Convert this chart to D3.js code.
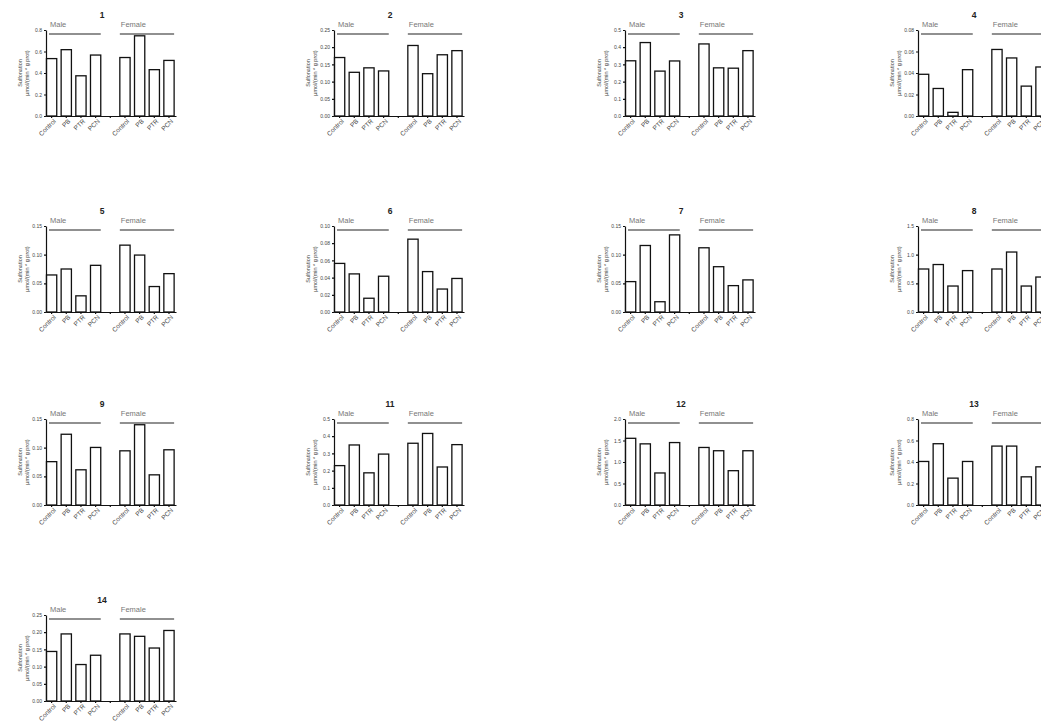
<!DOCTYPE html>
<html>
<head>
<meta charset="utf-8">
<script src="https://cdn.jsdelivr.net/npm/d3@7"></script>
<style>
  body { margin: 0; background: #fff; }
  svg { font-family: "Liberation Sans", Arial, sans-serif; }
</style>
</head>
<body>
<div id="root"></div>
<script>
// categories
var treatments = ["Control", "PB", "PTR", "PCN"];
var sexes = ["Male", "Female"];

// panel numbers (10 is missing in the source)
var panelIds = [1, 2, 3, 4, 5, 6, 7, 8, 9, 11, 12, 13, 14];

// y axis tick settings per panel
var yMax = [0.8, 0.25, 0.5, 0.08, 0.15, 0.10, 0.15, 1.5, 0.15, 0.5, 2.0, 0.8, 0.25];
var yStep = [0.2, 0.05, 0.1, 0.02, 0.05, 0.02, 0.05, 0.5, 0.05, 0.1, 0.5, 0.2, 0.05];
var yDecimals = [1, 2, 1, 2, 2, 2, 2, 1, 2, 1, 1, 1, 2];

// sulfonation, umol/(min * g prot): Control, PB, PTR, PCN
var maleValues = [
  [0.534, 0.617, 0.374, 0.567],
  [0.170, 0.127, 0.140, 0.131],
  [0.321, 0.427, 0.261, 0.320],
  [0.0388, 0.0256, 0.0034, 0.0431],
  [0.0646, 0.0750, 0.0282, 0.0814],
  [0.0565, 0.0443, 0.0160, 0.0416],
  [0.0530, 0.1160, 0.0179, 0.1345],
  [0.750, 0.828, 0.453, 0.722],
  [0.0756, 0.1234, 0.0614, 0.1004],
  [0.229, 0.349, 0.187, 0.296],
  [1.551, 1.422, 0.745, 1.452],
  [0.405, 0.570, 0.250, 0.405],
  [0.144, 0.195, 0.106, 0.133]
];
var femaleValues = [
  [0.544, 0.746, 0.431, 0.517],
  [0.205, 0.123, 0.178, 0.190],
  [0.419, 0.280, 0.278, 0.380],
  [0.0619, 0.0540, 0.0278, 0.0456],
  [0.1166, 0.0993, 0.0444, 0.0669],
  [0.0847, 0.0470, 0.0267, 0.0390],
  [0.1120, 0.0790, 0.0460, 0.0560],
  [0.750, 1.046, 0.453, 0.610],
  [0.0945, 0.1400, 0.0526, 0.0963],
  [0.359, 0.416, 0.221, 0.351],
  [1.338, 1.262, 0.798, 1.262],
  [0.548, 0.548, 0.262, 0.355],
  [0.195, 0.188, 0.154, 0.205]
];

var W = 1041, H = 724;
var colX = [46, 334, 625, 918];
var rowY = [116, 312, 505, 701];
var pw = 130, ph = 86;

var svg = d3.select("#root").append("svg")
  .attr("width", W)
  .attr("height", H);

// slots: 4 male, one empty gap, 4 female
var slots = treatments.map(function(t) { return "M_" + t; })
  .concat(["gap"])
  .concat(treatments.map(function(t) { return "F_" + t; }));

var x = d3.scaleBand()
  .domain(slots)
  .range([0, pw])
  .paddingInner(0.3)
  .paddingOuter(0.08)
  .align(0.2);

panelIds.forEach(function(id, i) {
  var col = i % 4, row = Math.floor(i / 4);
  var g = svg.append("g")
    .attr("transform", "translate(" + colX[col] + "," + (rowY[row] - ph) + ")");

  var y = d3.scaleLinear().domain([0, yMax[i]]).range([ph, 0]);
  var ticks = d3.range(0, yMax[i] + yStep[i] / 2, yStep[i]);

  var data = [];
  treatments.forEach(function(t, j) {
    data.push({ key: "M_" + t, value: maleValues[i][j] });
  });
  treatments.forEach(function(t, j) {
    data.push({ key: "F_" + t, value: femaleValues[i][j] });
  });

  g.selectAll(".bar")
    .data(data)
    .enter()
    .append("rect")
    .attr("class", "bar")
    .attr("x", function(d) { return x(d.key); })
    .attr("y", function(d) { return y(d.value); })
    .attr("width", x.bandwidth())
    .attr("height", function(d) { return ph - y(d.value); })
    .attr("fill", "#fff")
    .attr("stroke", "#111")
    .attr("stroke-width", 1.3);

  // y axis
  var yAxis = g.append("g")
    .call(d3.axisLeft(y).tickValues(ticks).tickSize(2).tickSizeOuter(0)
      .tickFormat(d3.format("." + yDecimals[i] + "f")));
  yAxis.selectAll("text").attr("font-size", "5px").attr("fill", "#444").attr("dx", "1");
  yAxis.selectAll("path, line").attr("stroke", "#111").attr("stroke-width", 1.2);

  // x axis
  var xAxis = g.append("g")
    .attr("transform", "translate(0," + ph + ")")
    .call(d3.axisBottom(x).tickSize(2).tickSizeOuter(0)
      .tickFormat(function(d) { return d === "gap" ? "" : d.slice(2); }));
  xAxis.selectAll("path, line").attr("stroke", "#111").attr("stroke-width", 1.2);
  xAxis.selectAll("text")
    .attr("font-size", "6.5px")
    .attr("fill", "#444")
    .attr("text-anchor", "end")
    .attr("transform", "translate(3,4) rotate(-45)")
    .attr("dy", "0.35em")
    .attr("y", 0)
    .attr("x", 0);

  // y label
  var ylab = g.append("text")
    .attr("transform", "translate(-24," + (ph / 2) + ") rotate(-90)")
    .attr("text-anchor", "middle")
    .attr("font-size", "5.5px")
    .attr("fill", "#444");
  ylab.append("tspan").attr("x", 0).attr("dy", 0).text("Sulfonation");
  ylab.append("tspan").attr("x", 0).attr("dy", "1.2em").text("µmol/(min * g prot)");

  // panel title
  g.append("text")
    .attr("x", 56)
    .attr("y", -12)
    .attr("text-anchor", "middle")
    .attr("font-size", "8.5px")
    .attr("font-weight", "bold")
    .attr("fill", "#222")
    .text(id);

  // group lines and labels
  sexes.forEach(function(s) {
    var p = s === "Male" ? "M_" : "F_";
    var x0 = x(p + treatments[0]), x1 = x(p + treatments[3]) + x.bandwidth();
    if (s === "Male") x0 = 3;
    g.append("line")
      .attr("x1", x0).attr("x2", x1)
      .attr("y1", 4).attr("y2", 4)
      .attr("stroke", "#222")
      .attr("stroke-width", 1.2);
    g.append("text")
      .attr("x", x0 + 1)
      .attr("y", -3)
      .attr("font-size", "7.5px")
      .attr("fill", "#777")
      .text(s);
  });
});
</script>
</body>
</html>
